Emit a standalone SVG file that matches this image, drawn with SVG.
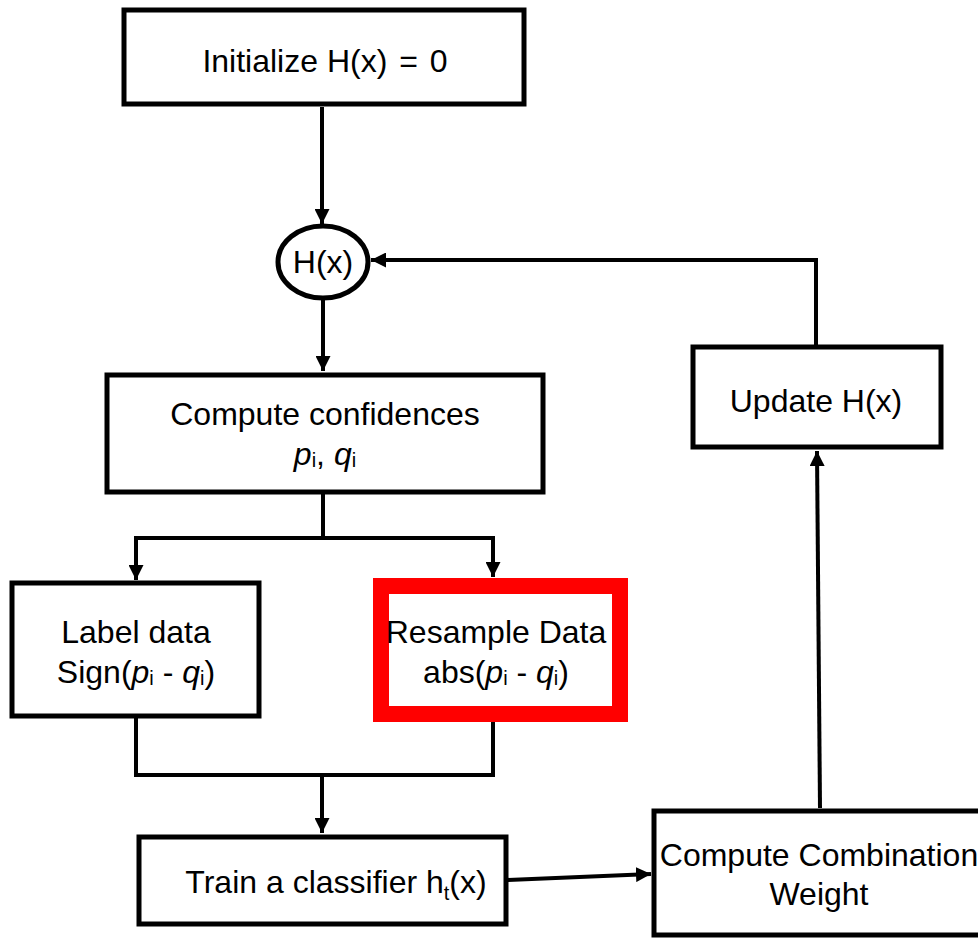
<svg xmlns="http://www.w3.org/2000/svg" width="978" height="938" viewBox="0 0 978 938">
<style>
.box{fill:#fff;stroke:#000;stroke-width:5}
.red{fill:#fff;stroke:#ff0000;stroke-width:16}
.t{font-family:"Liberation Sans",Arial,sans-serif;font-size:32px;fill:#000;text-anchor:middle}
.i{font-style:italic}
.s{font-size:20px}
.c{fill:none;stroke:#000;stroke-width:4}
</style>
<defs>
<marker id="ah" viewBox="0 0 10 10" refX="10" refY="5" markerWidth="15" markerHeight="15" markerUnits="userSpaceOnUse" orient="auto">
<path d="M0,0 L10,5 L0,10 z" fill="#000"/>
</marker>
</defs>
<rect width="978" height="938" fill="#fff"/>
<g id="connectors">
<path class="c" d="M322,107 L322,224" marker-end="url(#ah)"/>
<path class="c" d="M323,300 L323,371" marker-end="url(#ah)"/>
<path class="c" d="M323,492 L323,538 M134,538 L495,538"/>
<path class="c" d="M136,538 L136,580" marker-end="url(#ah)"/>
<path class="c" d="M493,538 L493,577" marker-end="url(#ah)"/>
<path class="c" d="M136,717 L136,775 L493,775 L493,722"/>
<path class="c" d="M322,775 L322,833" marker-end="url(#ah)"/>
<path class="c" d="M507,880 L651,874" marker-end="url(#ah)"/>
<path class="c" d="M820,808 L817,451" marker-end="url(#ah)"/>
<path class="c" d="M816,345 L816,260 L371,260" marker-end="url(#ah)"/>
</g>
<g id="init">
<rect class="box" x="124" y="10" width="400" height="94"/>
<text class="t" x="325" y="72">Initialize H(x) <tspan dx="3">=</tspan><tspan dx="3"> 0</tspan></text>
</g>
<g id="hx">
<ellipse cx="323" cy="262" rx="45" ry="36" fill="#fff" stroke="#000" stroke-width="5"/>
<text class="t" x="323" y="273">H(x)</text>
</g>
<g id="confidences">
<rect class="box" x="107" y="375" width="436" height="117"/>
<text class="t" x="325" y="425">Compute confidences</text>
<text class="t" x="325" y="465"><tspan class="i">p</tspan><tspan class="s" dy="2">i</tspan><tspan dy="-2">, </tspan><tspan class="i">q</tspan><tspan class="s" dy="2">i</tspan></text>
</g>
<g id="label">
<rect class="box" x="12" y="583" width="247" height="133"/>
<text class="t" x="136" y="643">Label data</text>
<text class="t" x="136" y="683">Sign(<tspan class="i">p</tspan><tspan class="s" dy="2">i</tspan><tspan dy="-2"> - </tspan><tspan class="i">q</tspan><tspan class="s" dy="2">i</tspan><tspan dy="-2">)</tspan></text>
</g>
<g id="resample">
<rect class="red" x="381" y="586" width="239" height="128"/>
<text class="t" x="496" y="643">Resample Data</text>
<text class="t" x="496" y="683">abs(<tspan class="i">p</tspan><tspan class="s" dy="2">i</tspan><tspan dy="-2"> - </tspan><tspan class="i">q</tspan><tspan class="s" dy="2">i</tspan><tspan dy="-2">)</tspan></text>
</g>
<g id="train">
<rect class="box" x="139" y="837" width="367" height="87"/>
<text class="t" x="336" y="893">Train a classifier h<tspan class="s" dy="7">t</tspan><tspan dy="-7">(x)</tspan></text>
</g>
<g id="combination">
<rect class="box" x="654" y="811" width="330" height="124"/>
<text class="t" x="819" y="866">Compute Combination</text>
<text class="t" x="819" y="905">Weight</text>
</g>
<g id="update">
<rect class="box" x="693" y="347" width="248" height="100"/>
<text class="t" x="816" y="412">Update H(x)</text>
</g>
</svg>
